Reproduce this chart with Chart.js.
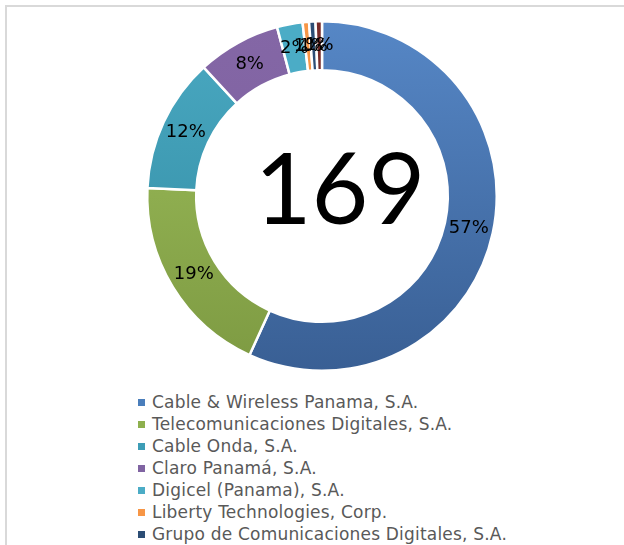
<!DOCTYPE html>
<html>
<head>
<meta charset="utf-8">
<script src="https://cdn.jsdelivr.net/npm/chart.js@4"></script>
<style>
    html, body { margin: 0; padding: 0; background: #fff; overflow: hidden; width: 624px; height: 545px; }
    #frame { position: absolute; left: 5px; top: 5px; width: 660px; height: 600px;
             border-left: 2px solid #d9d9d9; border-top: 2px solid #d9d9d9; }
    #wrap { position: absolute; left: 138px; top: 12px; width: 368px; height: 368px; }
    #legend { position: absolute; left: 136px; top: 391px; margin: 0; padding: 0; list-style: none;
              font-family: "DejaVu Sans", sans-serif; font-size: 17px; letter-spacing: 0.2px; color: #595959; }
    #legend li { height: 22px; line-height: 22px; white-space: nowrap; }
    #legend span { display: inline-block; width: 7px; height: 7px; margin: 0 7px 2px 2px; vertical-align: middle; }
</style>
</head>
<body>
<div id="frame"></div>
<div id="wrap"><canvas id="donut"></canvas></div>
<ul id="legend"></ul>
<script>
// Data
const operators = [
    "Cable & Wireless Panama, S.A.",
    "Telecomunicaciones Digitales, S.A.",
    "Cable Onda, S.A.",
    "Claro Panamá, S.A.",
    "Digicel (Panama), S.A.",
    "Liberty Technologies, Corp.",
    "Grupo de Comunicaciones Digitales, S.A.",
    "Otros"
]
const concessions = [96, 32, 21, 13, 4, 1, 1, 1]
const totalLabel = "169"

// colours (top of gradient, bottom of gradient, legend box)
const topColors    = ['#5687c6', '#9fc05c', '#4aa9c2', '#8467a6', '#4bacc6', '#f79646', '#2c4d75', '#772c2a']
const bottomColors = ['#395f94', '#7d9a42', '#318aa1', '#7b5d9c', '#4bacc6', '#f79646', '#2c4d75', '#772c2a']
const legendColors = ['#4a7ebb', '#8eb04e', '#3d9db6', '#8064a2', '#4bacc6', '#f79646', '#2c4d75', '#772c2a']

function fillFor(context){
    let i = context.dataIndex
    let area = context.chart.chartArea
    if(!area) return topColors[i]
    let g = context.chart.ctx.createLinearGradient(0, area.top, 0, area.bottom)
    g.addColorStop(0, topColors[i])
    g.addColorStop(1, bottomColors[i])
    return g
}

// percentage labels on the ring + the big number in the middle
const labelPlugin = {
    id: 'labels',
    afterDatasetsDraw(chart){
        let ctx = chart.ctx
        let meta = chart.getDatasetMeta(0)
        let data = chart.data.datasets[0].data
        let total = data.reduce((a, b) => a + b, 0)
        ctx.save()
        ctx.fillStyle = '#000'
        ctx.textAlign = 'center'
        ctx.textBaseline = 'middle'
        ctx.font = '18px "DejaVu Sans", sans-serif'
        meta.data.forEach(function(arc, i){
            let p = arc.tooltipPosition()
            ctx.fillText(Math.round(data[i] / total * 100) + '%', p.x, p.y)
        })
        let cx = (chart.chartArea.left + chart.chartArea.right) / 2
        let cy = (chart.chartArea.top + chart.chartArea.bottom) / 2
        ctx.font = '98px Lato, sans-serif'
        ctx.fillText(totalLabel, cx + 18, cy - 4)
        ctx.restore()
    }
}

window.donutChart = new Chart('donut', {
    type: 'doughnut',
    data: {
        labels: operators,
        datasets: [{
            data: concessions,
            backgroundColor: fillFor,
            borderColor: '#ffffff',
            borderWidth: 2.5,
            hoverOffset: 0
        }]
    },
    options: {
        responsive: true,
        maintainAspectRatio: false,
        animation: false,
        cutout: '72%',
        layout: { padding: 8 },
        plugins: {
            legend: { display: false },
            tooltip: { enabled: false }
        }
    },
    plugins: [labelPlugin]
})

// legend, one item per row
let legendList = document.getElementById('legend')
operators.forEach(function(name, i){
    let li = document.createElement('li')
    let box = document.createElement('span')
    box.style.background = legendColors[i]
    li.appendChild(box)
    li.appendChild(document.createTextNode(name))
    legendList.appendChild(li)
})
</script>
</body>
</html>
